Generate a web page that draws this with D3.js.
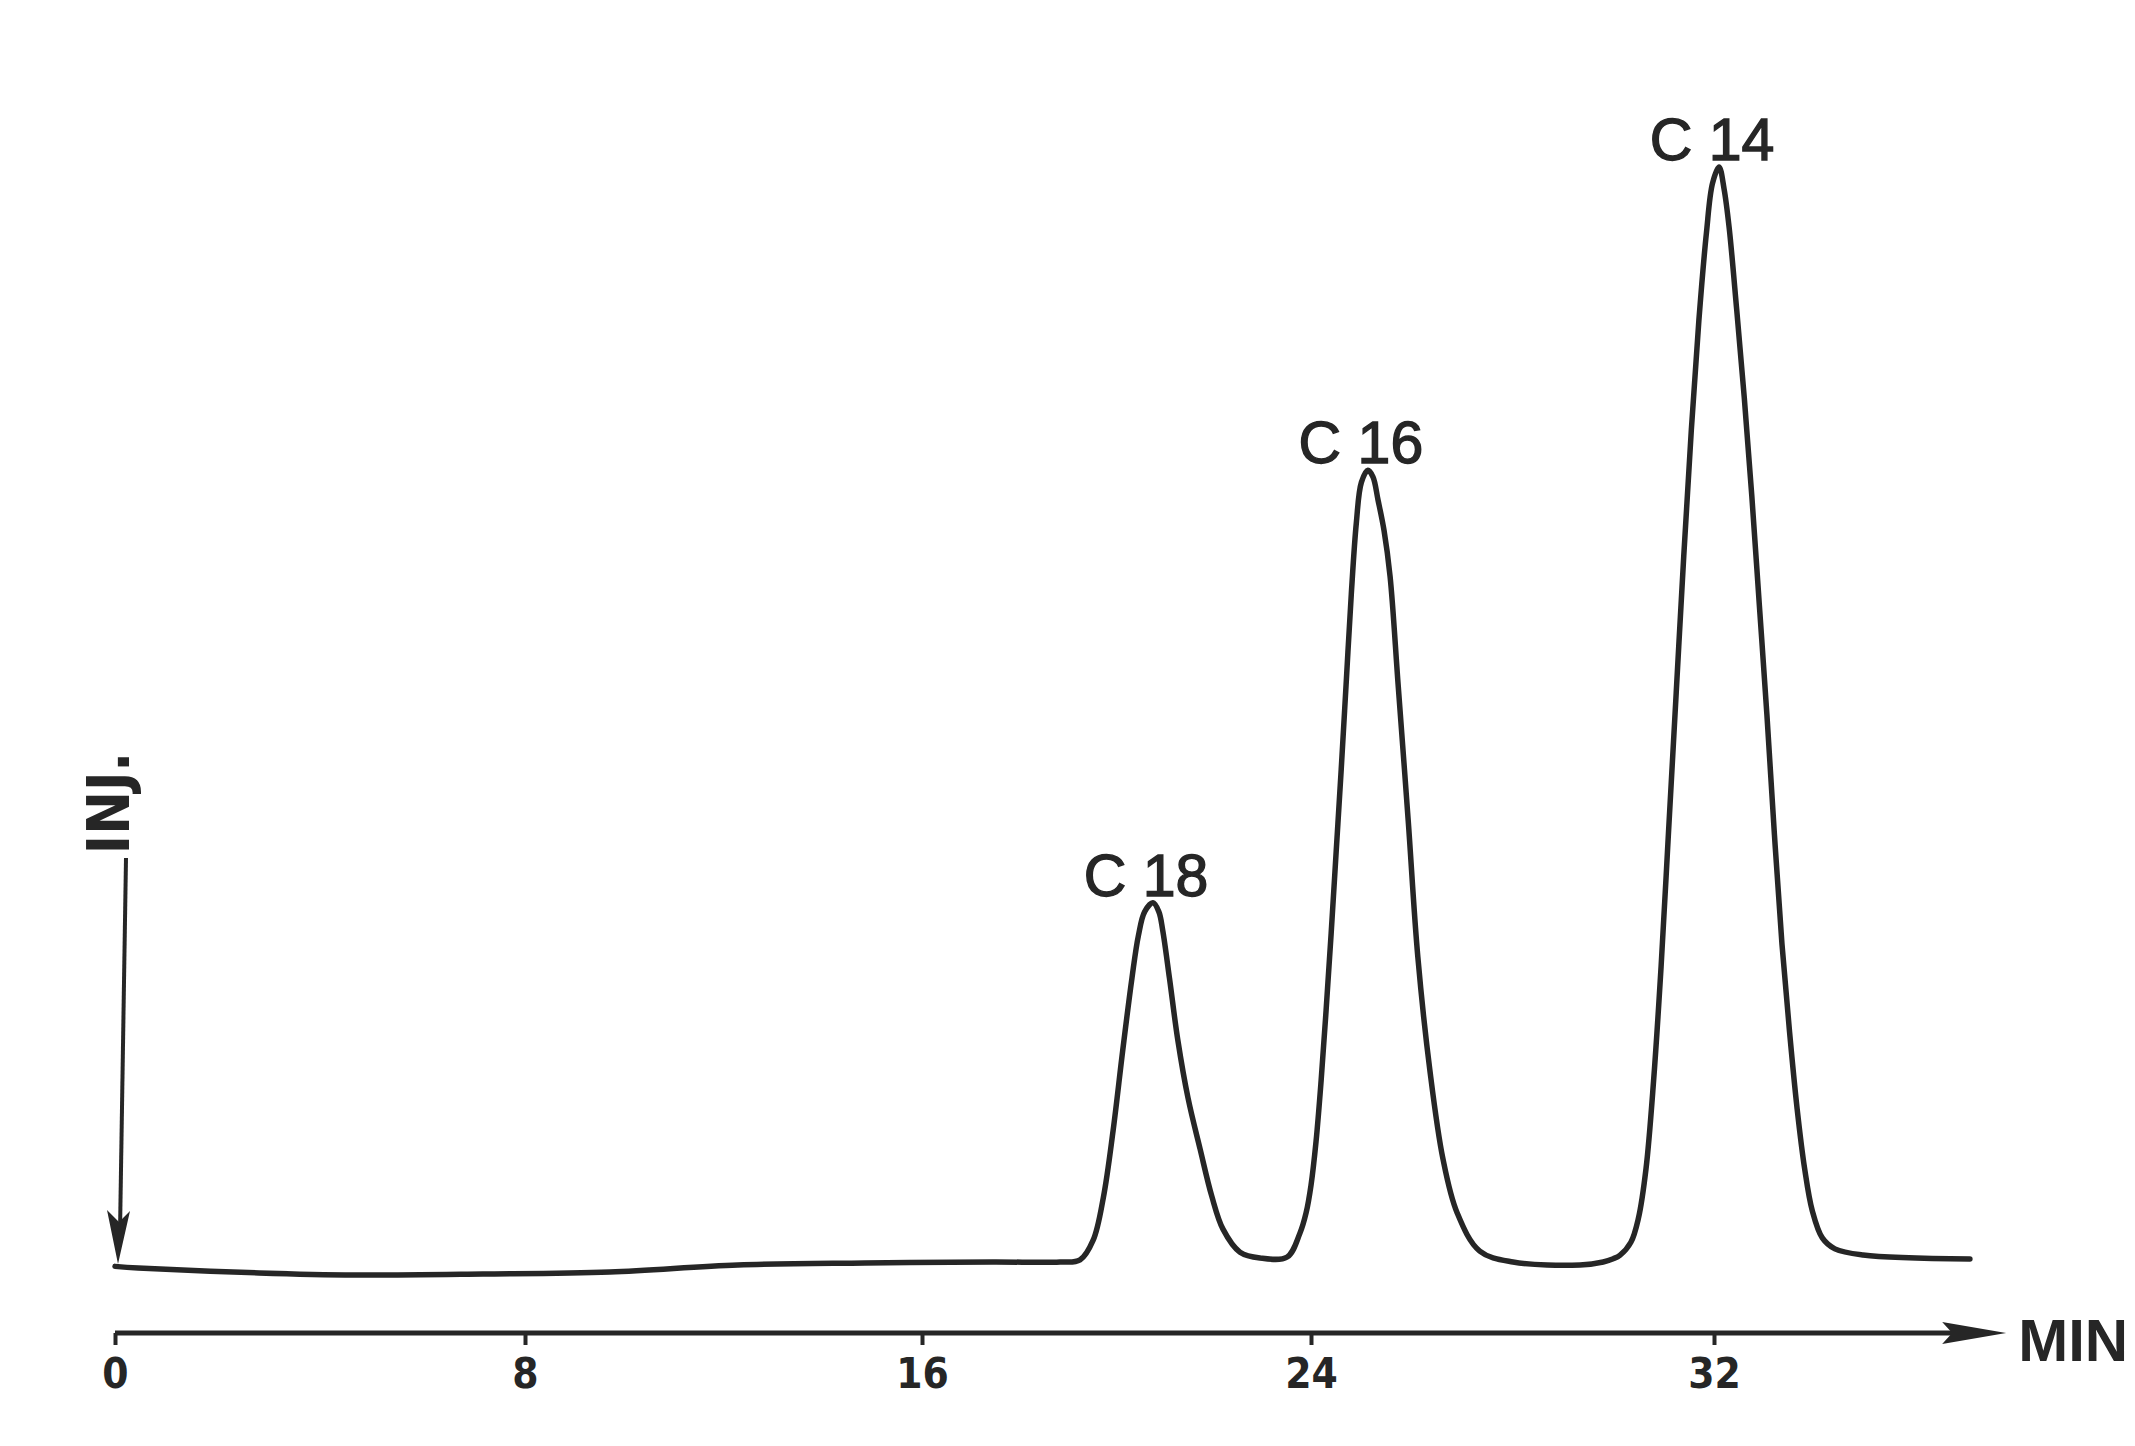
<!DOCTYPE html>
<html lang="en">
<head>
    <meta charset="utf-8">
    <script type="application/javascript" src="https://d3js.org/d3.v7.min.js"></script>
    <style>
        body { margin: 0; background: #fff; }
        .trace { fill: none; stroke: #262626; stroke-width: 5.5; stroke-linejoin: round; stroke-linecap: round; }
        .axis line { stroke: #262626; stroke-width: 4; }
        .axis text { font-family: "Liberation Sans Narrow", "DejaVu Sans Condensed", sans-serif; font-weight: bold; font-size: 42px; fill: #262626; }
        .peak { font-family: "Liberation Sans", Arial, sans-serif; font-size: 59px; fill: #262626; stroke: #262626; stroke-width: 1.4; text-anchor: middle; }
    </style>
</head>
<body>
<script type="application/javascript">

    // retention time (min) and detector signal (relative units)
    let times = [0.0, 0.45, 2.81, 4.68, 7.18, 9.71, 12.29, 14.85, 17.46, 18.84, 19.25,
        19.52, 19.73, 19.93, 20.13, 20.32, 20.45, 20.58, 20.75, 20.87, 20.95, 21.09, 21.26,
        21.47, 21.72, 21.96, 22.19, 22.54, 22.95, 23.51,
        23.77, 23.90, 24.00, 24.10, 24.20, 24.30, 24.40, 24.50, 24.60, 24.70, 24.80, 24.90,
        25.00, 25.13, 25.23, 25.33, 25.45, 25.57, 25.73, 25.93, 26.12, 26.36, 26.62, 26.90,
        27.35, 28.01, 29.34, 29.80, 30.00,
        30.13, 30.35, 30.50, 30.65, 30.80, 30.95, 31.10, 31.25, 31.40, 31.55, 31.70, 31.85,
        31.97, 32.10, 32.20, 32.30, 32.45, 32.60, 32.75, 32.90, 33.05, 33.20, 33.35, 33.50,
        33.65, 33.80, 33.95, 34.15, 34.40, 34.96, 37.08];
    let signal = [-0.4, -0.55, -1.0, -1.19, -1.1, -0.91, -0.27, -0.09, 0, 0, 0.2,
        2.0, 5.9, 12.0, 19.4, 26.0, 29.8, 32.0, 32.8, 32.0, 30.3, 25.9, 20.3,
        15.0, 10.3, 6.0, 3.0, 0.9, 0.37, 0.46,
        2.6, 4.5, 7.0, 11.0, 16.5, 23.0, 30.0, 37.5, 45.0, 53.0, 61.0, 67.5,
        71.2, 72.3, 71.7, 69.6, 66.8, 62.6, 52.7, 40.3, 27.9, 17.5, 9.4, 4.5,
        1.0, 0, -0.27, 0.0, 0.3,
        0.6, 1.8, 4.0, 8.5, 16.5, 27.0, 39.5, 52.0, 64.5, 76.0, 86.0, 94.0,
        98.5, 100, 98.0, 94.5, 87.0, 79.0, 70.0, 60.0, 50.0, 39.0, 29.0, 21.0,
        14.0, 8.5, 4.7, 2.2, 1.2, 0.64, 0.27];

    let tickValues = [0, 8, 16, 24, 32];
    let peakNames = ['C 18', 'C 16', 'C 14'];
    let peakTimes = [20.75, 25.13, 32.1];
    let peakHeights = [32.8, 72.3, 100];
    const AXIS_END = 37.8;

    let svg = d3.select('body').append('svg')
        .attr('width', 2135).attr('height', 1446);

    // the scanned time axis is not quite even, so map each 8 min step
    let x = d3.scaleLinear().domain([0, 8, 16, 24, 32]).range([115, 525, 922, 1311, 1714]);
    let y = d3.scaleLinear().domain([0, 100]).range([1262, 167]);
    let axisY = 1333;
    let ink = '#262626';

    let points = times.map(function (t, i) {
        return [t, signal[i]];
    });

    let line = d3.line()
        .x(function (d) { return x(d[0]); })
        .y(function (d) { return y(d[1]); })
        .curve(d3.curveCatmullRom.alpha(0.5));

    svg.append('path').attr('class', 'trace').attr('d', line(points));

    // time axis
    let axis = svg.append('g').attr('class', 'axis')
        .attr('transform', 'translate(0,' + axisY + ')')
        .call(d3.axisBottom(x).tickValues(tickValues).tickSize(12).tickFormat(d3.format('d')));
    axis.select('.domain').remove();
    axis.selectAll('text').attr('y', 55).attr('dy', 0);

    axis.append('line')
        .attr('x1', x(0)).attr('x2', x(AXIS_END) - 40)
        .attr('y1', 0).attr('y2', 0)
        .style('stroke-width', 5);
    axis.append('path')
        .attr('d', 'M' + x(AXIS_END) + ',0 L' + (x(AXIS_END) - 64) + ',-11 L' + (x(AXIS_END) - 54) + ',0 L' + (x(AXIS_END) - 64) + ',11 Z')
        .attr('fill', ink);
    axis.append('text')
        .attr('x', x(AXIS_END) + 12).attr('y', 28)
        .attr('text-anchor', 'start')
        .style('font-family', '"Liberation Sans", Arial, sans-serif')
        .style('font-size', '60px')
        .text('MIN');

    // injection marker
    let inj = svg.append('g');
    inj.append('line')
        .attr('x1', x(0) + 11).attr('y1', 858)
        .attr('x2', x(0) + 5).attr('y2', y(0) - 30)
        .attr('stroke', ink).attr('stroke-width', 4);
    inj.append('path')
        .attr('d', 'M' + (x(0) + 3) + ',' + (y(0) + 2) + ' L' + (x(0) - 8) + ',' + (y(0) - 52) +
            ' L' + (x(0) + 4) + ',' + (y(0) - 40) + ' L' + (x(0) + 15) + ',' + (y(0) - 51) + ' Z')
        .attr('fill', ink);
    inj.append('text')
        .attr('transform', 'translate(' + (x(0) + 14) + ',803) rotate(-90)')
        .attr('text-anchor', 'middle')
        .style('font-family', '"Liberation Sans Narrow", "DejaVu Sans Condensed", sans-serif')
        .style('font-weight', 'bold')
        .style('font-size', '58px')
        .attr('fill', ink)
        .text('INJ.');

    // peak labels
    svg.append('g').selectAll('text')
        .data(peakNames)
        .enter().append('text')
        .attr('class', 'peak')
        .attr('x', function (d, i) { return x(peakTimes[i]) - 7; })
        .attr('y', function (d, i) { return y(peakHeights[i]) - 7; })
        .text(function (d) { return d; });
</script>
</body>
</html>
